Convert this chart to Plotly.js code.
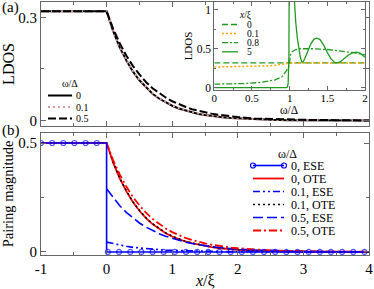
<!DOCTYPE html>
<html><head><meta charset="utf-8">
<script src="https://cdn.plot.ly/plotly-3.0.1.min.js"></script>
<style>html,body{margin:0;padding:0;background:#fff}#g{width:374px;height:289px}</style>
</head><body><div id="g"></div>
<script>
// ---- data ----
const xGrid = [-1, 0, 0.1, 0.2, 0.3, 0.4, 0.5, 0.6, 0.7, 0.8, 0.9, 1.0, 1.1, 1.2, 1.3, 1.4, 1.5, 1.6, 1.7, 1.8, 1.9, 2.0, 2.25, 2.5, 2.75, 3.0, 3.5, 4.0];
// panel (a): LDOS vs x/xi
const ldosW0  = [0.318,0.318,0.260,0.213,0.175,0.143,0.117,0.096,0.078,0.064,0.053,0.043,0.035,0.029,0.024,0.019,0.016,0.013,0.011,0.009,0.007,0.006,0.004,0.002,0.001,0.001,0.000,0.000];
const ldosW01 = [0.318,0.318,0.261,0.214,0.176,0.144,0.118,0.097,0.079,0.065,0.054,0.044,0.036,0.030,0.024,0.020,0.016,0.013,0.011,0.009,0.007,0.006,0.004,0.002,0.001,0.001,0.000,0.000];
const ldosW05 = [0.318,0.318,0.267,0.225,0.189,0.159,0.134,0.112,0.094,0.080,0.067,0.056,0.047,0.040,0.033,0.028,0.024,0.020,0.017,0.014,0.012,0.010,0.006,0.004,0.003,0.002,0.001,0.000];
const ldosNames = ['0', '0.1', '0.5'];
// panel (b): pairing magnitude
const eseW0X = [-1,-0.83,-0.66,-0.49,-0.32,-0.15,0,0,0.02,0.19,0.36,0.53,0.70,0.87,1.04,1.21,1.38,1.55,1.72,1.89,2.06,2.23,2.40,2.57,2.74,2.91,3.08,3.25,3.42,3.59,3.76,3.93];
const eseW0Y = [0.5,0.5,0.5,0.5,0.5,0.5,0.5,0,0,0,0,0,0,0,0,0,0,0,0,0,0,0,0,0,0,0,0,0,0,0,0,0];
const oteW0  = [0.5,0.5,0.410,0.338,0.279,0.229,0.189,0.155,0.128,0.105,0.086,0.071,0.058,0.048,0.040,0.033,0.027,0.022,0.018,0.015,0.012,0.010,0.006,0.004,0.002,0.001,0.001,0.000];
const eseW01 = [null,0.045,0.038,0.031,0.026,0.021,0.018,0.015,0.012,0.010,0.008,0.007,0.006,0.005,0.004,0.003,0.003,0.002,0.002,0.001,0.001,0.001,0.001,0,0,0,0,0];
const oteW01 = [0.5,0.5,0.412,0.340,0.281,0.231,0.191,0.157,0.130,0.107,0.088,0.072,0.059,0.049,0.041,0.034,0.028,0.023,0.019,0.015,0.012,0.010,0.006,0.004,0.002,0.001,0.001,0.000];
const eseW05 = [null,0.290,0.249,0.212,0.182,0.156,0.133,0.114,0.098,0.084,0.072,0.062,0.053,0.045,0.039,0.033,0.028,0.024,0.021,0.018,0.015,0.013,0.009,0.006,0.004,0.003,0.001,0.001];
const oteW05 = [0.5,0.5,0.422,0.356,0.300,0.253,0.214,0.180,0.152,0.128,0.108,0.091,0.077,0.065,0.055,0.046,0.039,0.033,0.028,0.023,0.020,0.017,0.011,0.007,0.005,0.003,0.001,0.001];
const pairNames = ['0, ESE', '0, OTE', '0.1, ESE', '0.1, OTE', '0.5, ESE', '0.5, OTE'];
// inset: LDOS vs omega/Delta
const insW_x0  = [0, 1, 2];
const insL_x0  = [0.318, 0.318, 0.318];
const insW_x01 = [0, 0.3, 0.5, 0.7, 0.8, 0.9, 0.95, 0.98, 1.0, 1.5, 2.0];
const insL_x01 = [0.265, 0.267, 0.271, 0.279, 0.286, 0.297, 0.305, 0.312, 0.318, 0.318, 0.318];
const insW_x08 = [0, 0.2, 0.4, 0.6, 0.7, 0.8, 0.9, 0.95, 0.98, 0.995, 1.0, 1.01, 1.03, 1.08, 1.15, 1.3, 1.5, 1.7, 1.85, 2.0];
const insL_x08 = [0.045, 0.047, 0.053, 0.066, 0.078, 0.098, 0.14, 0.20, 0.25, 0.29, 0.318, 0.42, 0.46, 0.49, 0.50, 0.50, 0.49, 0.47, 0.45, 0.42];
const insW_x5  = [0, 0.9, 0.96, 0.97, 0.98, 0.99, 0.995, 1.04, 1.06, 1.08, 1.10, 1.12, 1.14, 1.16, 1.18, 1.20, 1.24, 1.28, 1.32, 1.36, 1.40, 1.45, 1.50, 1.55, 1.60, 1.63, 1.67, 1.72, 1.78, 1.84, 1.89, 1.94, 2.0];
const insL_x5  = [0, 0, 0.002, 0.01, 0.05, 0.4, 1.5, 1.5, 1.12, 0.85, 0.65, 0.50, 0.40, 0.33, 0.33, 0.37, 0.47, 0.56, 0.62, 0.635, 0.62, 0.55, 0.45, 0.37, 0.32, 0.318, 0.33, 0.37, 0.42, 0.45, 0.455, 0.44, 0.39];
const insetNames = ['0', '0.1', '0.8', '5'];
const xTickVals = [-1, 0, 1, 2, 3, 4];
const xTickText = ['-1', '0', '1', '2', '3', '4'];

// ---- styles ----
const FONT = '"Liberation Serif", serif';
const BLUE = '#0000ff', RED = '#ff0000', GREEN = '#1e9a1e', ORANGE = '#ffa500', PINK = '#d79a9a';
const aStyles = [
  {color:'#000', width:2, dash:'solid'},
  {color:PINK, width:2, dash:'2px,3px'},
  {color:'#000', width:2, dash:'8px,3px'}
];
const bStyles = [
  {color:BLUE, width:1.6, dash:'solid', marker:true},
  {color:RED, width:1.8, dash:'solid'},
  {color:BLUE, width:1.6, dash:'7px,3px,2px,3px,2px,3px'},
  {color:'#000', width:1.6, dash:'2px,3px'},
  {color:BLUE, width:1.6, dash:'10px,4px'},
  {color:RED, width:1.8, dash:'8px,3px,2px,3px'}
];
const iStyles = [
  {color:GREEN, width:1.3, dash:'6px,3px'},
  {color:ORANGE, width:1.5, dash:'2px,2px'},
  {color:GREEN, width:1.3, dash:'6px,2px,2px,2px'},
  {color:GREEN, width:1.3, dash:'solid'}
];

const traces = [];
const aY = [ldosW0, ldosW01, ldosW05];
aY.forEach((y, i) => traces.push({x:xGrid, y:y, xaxis:'x2', yaxis:'y2', mode:'lines', name:ldosNames[i], showlegend:false,
  line:{color:aStyles[i].color, width:aStyles[i].width, dash:aStyles[i].dash}}));
const bY = [null, oteW0, eseW01, oteW01, eseW05, oteW05];
[1,2,3,4,5].forEach(i => traces.push({x:xGrid, y:bY[i], xaxis:'x', yaxis:'y', mode:'lines', name:pairNames[i], showlegend:false,
  line:{color:bStyles[i].color, width:bStyles[i].width, dash:bStyles[i].dash}}));
const mSizes = eseW0X.map((v, k) => (k === 6 || k === 7) ? 0 : 5);
traces.push({x:eseW0X, y:eseW0Y, xaxis:'x', yaxis:'y', mode:'lines+markers', name:pairNames[0], showlegend:false,
  line:{color:BLUE, width:1.6}, marker:{symbol:'circle-open', size:mSizes, color:BLUE, line:{width:1.2, color:BLUE}}});
const iX = [insW_x0, insW_x01, insW_x08, insW_x5], iY = [insL_x0, insL_x01, insL_x08, insL_x5];
iX.forEach((x, i) => traces.push({x:x, y:iY[i], xaxis:'x3', yaxis:'y3', mode:'lines', name:insetNames[i], showlegend:false,
  line:{color:iStyles[i].color, width:iStyles[i].width, dash:iStyles[i].dash}}));

// pixel -> paper helpers (plot area: x 41..369, y 2..255)
const L = 41, R = 5, T = 2, B = 34, W = 374, H = 289;
const fx = px => (px - L) / (W - L - R);
const fy = py => (H - B - py) / (H - T - B);

const shapes = [], annotations = [];
function legendBlock(names, styles, title, titleX, titleY, s0, s1, tx, y0, dy, fsize) {
  annotations.push({xref:'paper', yref:'paper', x:fx(titleX), y:fy(titleY), text:title, showarrow:false,
    xanchor:'center', yanchor:'middle', font:{family:FONT, size:fsize, color:'#000'}});
  names.forEach((n, i) => {
    const y = y0 + i * dy, st = styles[i];
    shapes.push({type:'line', xref:'paper', yref:'paper', x0:fx(s0), x1:fx(s1), y0:fy(y), y1:fy(y),
      line:{color:st.color, width:st.width, dash:st.dash}});
    if (st.marker) {
      [s0, s1].forEach(p => shapes.push({type:'circle', xref:'paper', yref:'paper', xsizemode:'pixel', ysizemode:'pixel',
        xanchor:fx(p), yanchor:fy(y), x0:-2.5, x1:2.5, y0:-2.5, y1:2.5, fillcolor:'rgba(0,0,0,0)', line:{color:BLUE, width:1.2}}));
    }
    annotations.push({xref:'paper', yref:'paper', x:fx(tx), y:fy(y), text:n, showarrow:false, borderpad:0,
      xanchor:'left', yanchor:'middle', font:{family:FONT, size:fsize, color:'#000'}});
  });
}
legendBlock(ldosNames, aStyles, 'ω/Δ', 70, 83.5, 48, 72, 75, 95.5, 11.5, 10);
legendBlock(pairNames, bStyles, 'ω/Δ', 287, 154, 253, 284, 290, 165.5, 13, 12);
legendBlock(insetNames, iStyles, '<i>x</i>/ξ', 245, 15, 222, 238, 246, 24.5, 9.1, 9.5);
annotations.push({xref:'paper', yref:'paper', x:fx(0), y:fy(8), text:'(a)', showarrow:false, xanchor:'left', yanchor:'middle', font:{family:FONT, size:15, color:'#000'}});
annotations.push({xref:'paper', yref:'paper', x:fx(0), y:fy(131), text:'(b)', showarrow:false, xanchor:'left', yanchor:'middle', font:{family:FONT, size:15, color:'#000'}});
// x-axis titles placed as text below the tick labels
annotations.push({xref:'paper', yref:'paper', x:fx(205), y:fy(280), text:'<i>x</i>/ξ', showarrow:false, xanchor:'center', yanchor:'middle', font:{family:FONT, size:16, color:'#000'}});
annotations.push({xref:'paper', yref:'paper', x:fx(289), y:fy(110.5), text:'ω/Δ', showarrow:false, xanchor:'center', yanchor:'middle', borderpad:0, font:{family:FONT, size:11.5, color:'#000'}});

const LINEC = '#666';
const baseAx = {showline:true, linecolor:LINEC, linewidth:1, mirror:'ticks', ticks:'inside', ticklen:5, tickcolor:LINEC,
  showgrid:false, zeroline:false, tickfont:{family:FONT, size:15, color:'#000'}, automargin:false};
const layout = {
  width:W, height:H, margin:{l:L, r:R, t:T, b:B}, paper_bgcolor:'#fff', plot_bgcolor:'#fff', showlegend:false,
  font:{family:FONT, color:'#000'},
  xaxis:Object.assign({}, baseAx, {domain:[0,1], anchor:'y', range:[-1,4], tickmode:'array', tickvals:xTickVals, ticktext:xTickText,
    minor:{dtick:0.5, ticks:'inside', ticklen:3, tickcolor:LINEC}}),
  yaxis:Object.assign({}, baseAx, {domain:[0, fy(133)], anchor:'x', range:[-0.014, 0.546], tickmode:'array', tickvals:[0,0.5], ticktext:['0','0.5'],
    minor:{tickvals:[0.25], ticks:'inside', ticklen:3, tickcolor:LINEC},
    title:{text:'Pairing magnitude', font:{family:FONT, size:14.5, color:'#000'}, standoff:2}}),
  xaxis2:Object.assign({}, baseAx, {domain:[0,1], anchor:'y2', matches:'x', range:[-1,4], tickmode:'array', tickvals:xTickVals, showticklabels:false,
    minor:{dtick:0.5, ticks:'inside', ticklen:3, tickcolor:LINEC}}),
  yaxis2:Object.assign({}, baseAx, {domain:[fy(126), 1], anchor:'x2', range:[-0.016, 0.345], tickmode:'array', tickvals:[0,0.3], ticktext:['0','0.3'],
    minor:{tickvals:[0.15], ticks:'inside', ticklen:3, tickcolor:LINEC},
    title:{text:'LDOS', font:{family:FONT, size:16, color:'#000'}, standoff:2}}),
  xaxis3:Object.assign({}, baseAx, {domain:[fx(214.3), fx(365)], anchor:'y3', range:[0,2], tickmode:'array', tickvals:[0,0.5,1,1.5,2], ticktext:['0','0.5','1','1.5','2'],
    ticklen:4, ticklabelstandoff:-2, minor:{dtick:0.25, ticks:'inside', ticklen:2, tickcolor:LINEC}, tickfont:{family:FONT, size:11, color:'#000'}}),
  yaxis3:Object.assign({}, baseAx, {domain:[fy(90), 1], anchor:'x3', range:[-0.03, 1.1], tickmode:'array', tickvals:[0,0.5,1], ticktext:['0','0.5','1'],
    ticklen:4, minor:{tickvals:[0.25,0.75], ticks:'inside', ticklen:2, tickcolor:LINEC}, tickfont:{family:FONT, size:11.5, color:'#000'},
    title:{text:'LDOS', font:{family:FONT, size:11, color:'#000'}, standoff:1}}),
  shapes:shapes, annotations:annotations
};
Plotly.newPlot('g', traces, layout, {staticPlot:true, displayModeBar:false});
</script></body></html>
